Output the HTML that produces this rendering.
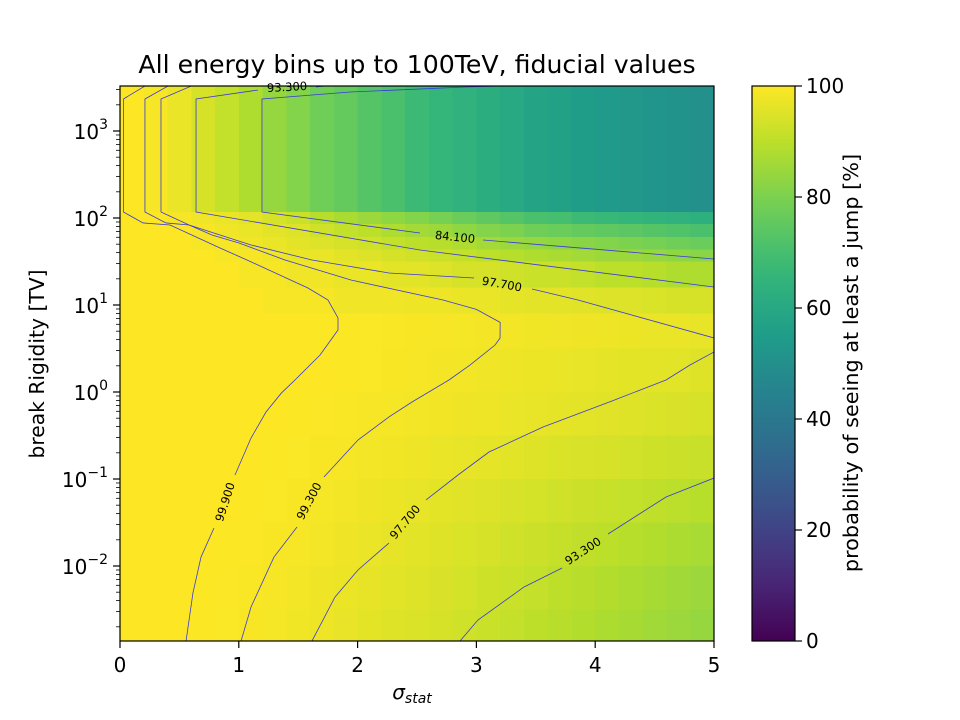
<!DOCTYPE html>
<html><head><meta charset="utf-8"><style>
body{margin:0;background:#fff;}
svg{display:block;font-family:"DejaVu Sans","Liberation Sans",sans-serif;}
</style></head><body>
<svg id="chart" width="960" height="720" viewBox="0 0 960 720" xmlns="http://www.w3.org/2000/svg">
<rect width="960" height="720" fill="#fff"/>
<text x="417" y="73" font-size="25.2" text-anchor="middle">All energy bins up to 100TeV, fiducial values</text>
<defs><linearGradient id="vir" x1="0" y1="1" x2="0" y2="0"></linearGradient>
<clipPath id="plotclip"><rect x="120" y="86" width="594" height="555"/></clipPath></defs>
<g id="cells" clip-path="url(#plotclip)"></g>
<g id="contours" clip-path="url(#plotclip)"></g>
<g id="clabels"></g>
<rect x="120" y="86" width="594" height="555" fill="none" stroke="#000" stroke-width="1.2"/>
<g id="axes"></g>
<text x="412" y="699" font-size="20" text-anchor="middle" font-style="italic">σ<tspan font-size="14" dy="4">stat</tspan></text>
<text transform="translate(44,364) rotate(-90)" font-size="20.3" text-anchor="middle">break Rigidity [TV]</text>
<rect x="752" y="86" width="43" height="555" fill="url(#vir)" stroke="#000" stroke-width="1.2"/>
<g id="cbaxis"></g>
<text transform="translate(858,363) rotate(-90)" font-size="20.8" text-anchor="middle">probability of seeing at least a jump [%]</text>
</svg>
<script>
const xEdges=[0,0.2,0.4,0.6,0.8,1.0,1.2,1.4,1.6,1.8,2.0,2.2,2.4,2.6,2.8,3.0,3.2,3.4,3.6,3.8,4.0,4.2,4.4,4.6,4.8,5.0];
const yEdges=[3.517,2.07,1.93,1.78,1.64,1.5,1.2,0.9,0.5,0,-0.5,-1,-1.5,-2,-2.5,-2.862];
const values=[
[100,99,97,94,91,88,84,81,78,76,73,71,68,66,64,62,60,58,57,55,54,53,52,51,50],
[100,100,99,98,97,96,94,92,89,87,85,83,81,79,77,75,73,71,70,68,67,66,65,64,63],
[100,100,100,99,98,97,96,95,93,91,90,88,86,85,83,81,80,78,77,76,75,74,73,72,71],
[100,100,100,99,99,98,97,96,95,94,93,91,90,89,88,86,85,84,83,82,81,80,79,78,77],
[100,100,100,100,99,99,98,97,97,96,95,94,93,92,91,90,89,88,87,86,85,85,84,83,82],
[100,100,100,100,100,99,99,98,98,97,97,96,96,95,94,94,93,92,92,91,90,90,89,88,88],
[100,100,100,100,100,100,99,99,99,98,98,98,97.5,97.5,97,97,96.5,96,96,95.5,95,95,94.5,94,94],
[100,100,100,100,100,100,100,100,99.9,99.8,99.6,99.4,99.2,99,98.8,98.6,98.4,98.2,98,97.8,97.6,97.4,97.2,97,96.8],
[100,100,100,100,100,100,100,100,100,99.8,99.5,99.2,98.9,98.6,98.3,98,97.7,97.4,97.1,96.8,96.5,96.2,96,95.7,95.4],
[100,100,100,100,100,100,100,99.9,99.7,99.4,99.1,98.8,98.5,98.1,97.8,97.5,97.1,96.8,96.4,96,95.6,95.2,94.8,94.4,94],
[100,100,100,100,100,100,99.9,99.6,99.3,98.9,98.5,98.1,97.7,97.2,96.8,96.3,95.8,95.3,94.8,94.3,93.8,93.3,92.8,92.3,91.8],
[100,100,100,100,100,99.9,99.6,99.2,98.8,98.3,97.8,97.3,96.7,96.1,95.5,94.9,94.3,93.6,93,92.3,91.7,91,90.4,89.8,89.2],
[100,100,100,100,99.9,99.7,99.3,98.9,98.4,97.8,97.2,96.6,95.9,95.2,94.5,93.8,93.1,92.3,91.5,90.7,90,89.2,88.4,87.6,86.8],
[100,100,100,99.9,99.7,99.4,99,98.5,97.9,97.3,96.6,95.9,95.2,94.4,93.6,92.8,92,91.2,90.3,89.4,88.5,87.6,86.7,85.8,85],
[100,100,100,99.9,99.6,99.2,98.8,98.2,97.6,96.9,96.2,95.4,94.6,93.8,93,92.1,91.2,90.3,89.4,88.5,87.6,86.7,85.8,84.9,84]
];
// contour polylines: [sigma, log10 R]; null = label gap
const c999=[[0.21,3.517],[0.029,3.368],[0.029,2.069],[0.194,1.943],[0.421,1.92],[0.842,1.655],[1.069,1.517],[1.582,1.195],[1.751,1.057],[1.835,0.851],[1.835,0.713],[1.684,0.425],[1.473,0.138],[1.359,-0.011],[1.229,-0.23],[1.103,-0.529],[0.968,-0.954],null,[0.791,-1.563],[0.682,-1.897],[0.614,-2.31],[0.556,-2.862]];
const c993=[[0.404,3.517],[0.21,3.368],[0.21,2.069],[0.387,1.943],[0.581,1.92],[0.774,1.805],[1.002,1.713],[1.389,1.517],[1.944,1.287],[2.719,1.057],[3.0,0.95],[3.2,0.8],[3.199,0.62],[3.157,0.54],[2.946,0.31],[2.769,0.138],[2.458,-0.115],[2.264,-0.287],[2.003,-0.552],[1.717,-0.977],null,[1.49,-1.552],[1.296,-1.897],[1.103,-2.471],[1.019,-2.862]];
const c977a=[[0.6,3.517],[0.345,3.368],[0.345,2.069],[0.581,1.92],[0.842,1.805],[1.103,1.69],[1.616,1.517],[2.264,1.368],[2.98,1.31],null,[3.468,1.184],[3.855,1.057],[5.0,0.621]];
const c977b=[[5.0,0.46],[4.798,0.31],[4.596,0.138],[4.141,-0.103],[3.561,-0.402],[3.106,-0.69],[2.845,-0.954],[2.576,-1.241],null,[2.264,-1.736],[2.003,-2.046],[1.81,-2.356],[1.616,-2.862]];
const c933a=[[1.8,3.53],[1.65,3.506],null,[1.162,3.471],[0.64,3.368],[0.64,2.069],[2.525,1.632],[5.0,1.207]];
const c933b=[[5.0,-0.989],[4.596,-1.207],[4.108,-1.632],null,[3.721,-2.023],[3.401,-2.241],[3.013,-2.621],[2.862,-2.862]];
const c841=[[3.5,3.53],[2.912,3.506],[1.936,3.448],[1.195,3.368],[1.195,2.069],[2.525,1.828],null,[3.056,1.747],[5.0,1.529]];
const contourLines=[c999,c993,c977a,c977b,c933a,c933b,c841];
const labelText=["93.300","84.100","97.700","99.900","99.300","97.700","93.300"];
const labelPos=[[1.406,3.506],[2.82,1.782],[3.215,1.241],[0.884,-1.264],[1.591,-1.253],[2.399,-1.494],[3.897,-1.828]];
const labelAngle=[-3,6,10,-72,-62,-50,-33];
const xTicks=[0,1,2,3,4,5];
const yTicks=[-2,-1,0,1,2,3];
const cbTicks=[0,20,40,60,80,100];

const NS="http://www.w3.org/2000/svg";
const X0=120,X1=714,Y0=641,Y1=86;
const xS=v=>X0+(v-0)/(5-0)*(X1-X0);
const LTOP=3+45/87, LBOT=3-510/87;
const yS=l=>Y0-(l-LBOT)/(LTOP-LBOT)*(Y0-Y1);
const vir=[[68,1,84],[72,40,120],[62,74,137],[49,104,142],[38,130,142],[31,158,137],[53,183,121],[110,206,88],[181,222,43],[253,231,37]];
function cmap(v){let t=Math.max(0,Math.min(1,v/100))*(vir.length-1);let i=Math.min(vir.length-2,Math.floor(t));let f=t-i;
 const c=vir[i].map((a,k)=>Math.round(a+(vir[i+1][k]-a)*f));return `rgb(${c[0]},${c[1]},${c[2]})`;}
function mk(tag,attrs,parent){const e=document.createElementNS(NS,tag);for(const k in attrs)e.setAttribute(k,attrs[k]);parent.appendChild(e);return e;}
const grad=document.getElementById('vir');
for(let i=0;i<=20;i++){mk('stop',{offset:(i/20),'stop-color':cmap(i*5)},grad);}
const cells=document.getElementById('cells');
values.forEach((row,r)=>row.forEach((v,c)=>{
 const x=xS(xEdges[c]),x2=xS(xEdges[c+1]),y=yS(yEdges[r]),y2=yS(yEdges[r+1]);
 const e=mk('rect',{x:x,y:y,width:x2-x+0.5,height:y2-y+0.5,fill:cmap(v),'shape-rendering':'crispEdges'},cells);
 
 
}));
const cg=document.getElementById('contours');
contourLines.forEach(line=>{
 let segs=[[]];line.forEach(p=>{if(p===null)segs.push([]);else segs[segs.length-1].push(p);});
 segs.forEach(s=>{const e=mk('polyline',{points:s.map(p=>xS(p[0])+','+yS(p[1])).join(' '),fill:'none',stroke:'#3a3ad8','stroke-width':0.8},cg);
  
  });
});
const lg=document.getElementById('clabels');
labelText.forEach((t,i)=>{const x=xS(labelPos[i][0]),y=yS(labelPos[i][1]);
 const e=mk('text',{transform:`translate(${x},${y}) rotate(${labelAngle[i]})`,'font-size':11.5,'text-anchor':'middle','dominant-baseline':'central'},lg);
 e.textContent=t;
 
 });
const ax=document.getElementById('axes');
xTicks.forEach(t=>{const x=xS(t);mk('line',{x1:x,x2:x,y1:641,y2:648,stroke:'#000','stroke-width':1.2},ax);
 const e=mk('text',{x:x,y:672,'font-size':20,'text-anchor':'middle'},ax);e.textContent=t;
 
 });
for(let d=-3;d<=3;d++){for(let m=2;m<=9;m++){const l=d+Math.log10(m);if(l<LBOT||l>LTOP)continue;const y=yS(l);mk('line',{x1:116,x2:120,y1:y,y2:y,stroke:'#000','stroke-width':0.8},ax);}}
yTicks.forEach(t=>{const y=yS(t);mk('line',{x1:113,x2:120,y1:y,y2:y,stroke:'#000','stroke-width':1.2},ax);
 const e=mk('text',{x:108,y:y+8,'font-size':20,'text-anchor':'end'},ax);
 
 
 e.appendChild(document.createTextNode('10'));const sp=mk('tspan',{dy:-10,'font-size':14},e);sp.textContent=(t<0?'−':'')+Math.abs(t);});
const cb=document.getElementById('cbaxis');
cbTicks.forEach(t=>{const y=641-t/100*555;mk('line',{x1:795,x2:802,y1:y,y2:y,stroke:'#000','stroke-width':1.2},cb);
 const e=mk('text',{x:806,y:y+7,'font-size':20},cb);e.textContent=t;
 
 });
</script>
</body></html>
